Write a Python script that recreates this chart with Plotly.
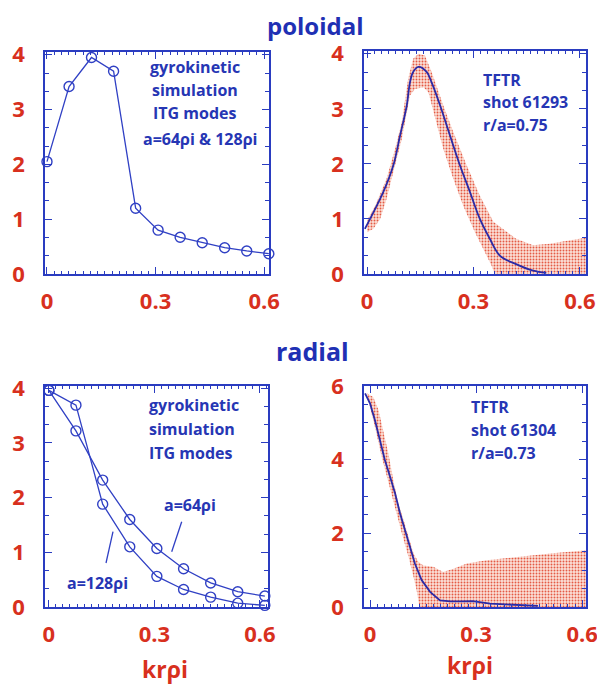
import plotly.graph_objects as go

# ---------------- data ----------------
# top-left: gyrokinetic simulation, poloidal spectrum
sim_pol_k = [0.0, 0.061, 0.123, 0.184, 0.245, 0.307, 0.368, 0.429, 0.491, 0.552, 0.613]
sim_pol_S = [2.05, 3.42, 3.95, 3.70, 1.20, 0.80, 0.67, 0.57, 0.48, 0.42, 0.37]

# top-right: TFTR shot 61293 poloidal spectrum
tftr_pol_k = [-0.006, 0.018, 0.046, 0.074, 0.093, 0.112, 0.121, 0.13, 0.145, 0.168, 0.182,
              0.206, 0.234, 0.262, 0.29, 0.318, 0.346, 0.375, 0.42, 0.468, 0.505]
tftr_pol_S = [0.82, 1.12, 1.49, 1.97, 2.51, 3.06, 3.48, 3.67, 3.76, 3.67, 3.48,
              3.06, 2.51, 1.97, 1.49, 1.0, 0.64, 0.33, 0.18, 0.06, 0.02]
tftr_pol_up_k = [0.0, 0.023, 0.055, 0.079, 0.098, 0.116, 0.13, 0.145, 0.163, 0.182, 0.215,
                 0.243, 0.281, 0.318, 0.356, 0.375, 0.42, 0.468, 0.515, 0.56, 0.617]
tftr_pol_up_S = [0.97, 1.24, 1.73, 2.27, 2.76, 3.55, 3.91, 4.0, 3.97, 3.67, 3.06,
                 2.58, 1.97, 1.42, 0.95, 0.86, 0.64, 0.52, 0.55, 0.60, 0.66]
tftr_pol_lo_k = [0.0, 0.018, 0.037, 0.055, 0.074, 0.098, 0.121, 0.135, 0.159, 0.173, 0.192,
                 0.215, 0.243, 0.271, 0.304, 0.332, 0.351, 0.36, 0.617]
tftr_pol_lo_S = [0.76, 0.82, 1.0, 1.36, 1.85, 2.45, 3.24, 3.36, 3.39, 3.3, 2.82,
                 2.27, 1.73, 1.24, 0.76, 0.39, 0.15, 0.0, 0.0]

# bottom-left: gyrokinetic simulation, radial spectrum
sim_rad_k = [0.0, 0.077, 0.153, 0.230, 0.307, 0.383, 0.460, 0.537, 0.614]
sim_rad_S64 = [3.96, 3.22, 2.32, 1.60, 1.07, 0.70, 0.44, 0.28, 0.20]
sim_rad_S128 = [3.96, 3.69, 1.88, 1.10, 0.56, 0.32, 0.18, 0.07, 0.03]

# bottom-right: TFTR shot 61304 radial spectrum
tftr_rad_k = [-0.014, 0.0, 0.014, 0.028, 0.042, 0.057, 0.071, 0.085, 0.099, 0.113, 0.127,
              0.146, 0.17, 0.198, 0.227, 0.26, 0.29, 0.34, 0.39, 0.475]
tftr_rad_S = [5.8, 5.53, 5.07, 4.53, 3.99, 3.53, 3.08, 2.54, 2.08, 1.63, 1.18,
              0.73, 0.41, 0.18, 0.15, 0.15, 0.16, 0.09, 0.07, 0.03]
tftr_rad_up_k = [-0.009, 0.009, 0.024, 0.038, 0.052, 0.066, 0.08, 0.095, 0.109, 0.123, 0.137,
                 0.151, 0.179, 0.207, 0.236, 0.274, 0.33, 0.415, 0.51, 0.611]
tftr_rad_up_S = [5.8, 5.7, 5.35, 4.8, 4.17, 3.44, 2.81, 2.36, 1.9, 1.45, 1.22,
                 1.13, 1.09, 0.95, 1.04, 1.18, 1.27, 1.36, 1.45, 1.54]
tftr_rad_lo_k = [-0.005, 0.014, 0.033, 0.052, 0.071, 0.09, 0.109, 0.123, 0.132, 0.14, 0.611]
tftr_rad_lo_S = [5.62, 4.89, 4.08, 3.44, 2.72, 2.0, 1.36, 0.82, 0.45, 0.0, 0.0]

x_ticks = [0, 0.3, 0.6]
x_ticklabels = ["0", "0.3", "0.6"]

# ---------------- styles ----------------
RED = "#d8301e"
BLUE = "#2a3cc0"
TXT_BLUE = "#2636b4"
LINE_BLUE = "#3040c4"
DARK_BLUE = "#2a2aa6"
FONT = "Open Sans"

fig = go.Figure()

def band(xu, yu, xl, yl, xa, ya):
    fig.add_trace(go.Scatter(
        x=list(xu) + list(xl)[::-1], y=list(yu) + list(yl)[::-1],
        xaxis=xa, yaxis=ya, mode="lines", line=dict(width=0),
        fill="toself", fillcolor="rgba(0,0,0,0)",
        fillpattern=dict(shape=".", size=3, solidity=0.32, fgcolor="#e45a44",
                         bgcolor="rgba(251,222,212,0.9)"),
        hoverinfo="skip", showlegend=False))

# TL
fig.add_trace(go.Scatter(x=sim_pol_k, y=sim_pol_S, xaxis="x", yaxis="y",
                         mode="lines+markers", cliponaxis=False,
                         line=dict(color=LINE_BLUE, width=1.3),
                         marker=dict(symbol="circle-open", size=10, color=LINE_BLUE,
                                     line=dict(width=1.4)), showlegend=False))
# TR
band(tftr_pol_up_k, tftr_pol_up_S, tftr_pol_lo_k, tftr_pol_lo_S, "x2", "y2")
fig.add_trace(go.Scatter(x=tftr_pol_k, y=tftr_pol_S, xaxis="x2", yaxis="y2",
                         mode="lines", line=dict(color=DARK_BLUE, width=1.8, shape="spline"),
                         showlegend=False))
# BL
for ys in (sim_rad_S64, sim_rad_S128):
    fig.add_trace(go.Scatter(x=sim_rad_k, y=ys, xaxis="x3", yaxis="y3",
                             mode="lines+markers", cliponaxis=False,
                             line=dict(color=LINE_BLUE, width=1.3),
                             marker=dict(symbol="circle-open", size=10, color=LINE_BLUE,
                                         line=dict(width=1.4)), showlegend=False))
# BR
band(tftr_rad_up_k, tftr_rad_up_S, tftr_rad_lo_k, tftr_rad_lo_S, "x4", "y4")
fig.add_trace(go.Scatter(x=tftr_rad_k, y=tftr_rad_S, xaxis="x4", yaxis="y4",
                         mode="lines", line=dict(color=DARK_BLUE, width=1.8),
                         showlegend=False))

W, H = 605, 684
OFF = 8  # page body margin compensation (pixels)

def PX(x):
    return (x - OFF) / W

def PY(y):
    return 1 - (y - OFF) / H

def px_dom(a, b):
    return [PX(a), PX(b)]

def py_dom(a, b):
    return [PY(b), PY(a)]

tickfont = dict(family=FONT, size=22, color=RED, weight="bold")

def xax(dom, rng, anchor):
    return dict(domain=dom, range=rng, anchor=anchor, tickvals=x_ticks, ticktext=x_ticklabels,
                ticks="inside", ticklen=7, tickcolor=BLUE, tickwidth=1.2,
                minor=dict(ticks="inside", ticklen=3, dtick=0.02, tick0=0, tickcolor=BLUE),
                showline=True, linecolor=BLUE, linewidth=1.6, mirror="allticks",
                showgrid=False, zeroline=False, tickfont=tickfont, ticklabelstandoff=7,
                automargin=False, fixedrange=True)

def yax(dom, rng, anchor, dtick, mdtick):
    return dict(domain=dom, range=rng, anchor=anchor, dtick=dtick, tick0=0,
                ticks="inside", ticklen=7, tickcolor=BLUE, tickwidth=1.2,
                minor=dict(ticks="inside", ticklen=4, dtick=mdtick, tick0=0, tickcolor=BLUE),
                showline=True, linecolor=BLUE, linewidth=1.6, mirror="allticks",
                showgrid=False, zeroline=False, tickfont=tickfont, ticklabelstandoff=14,
                automargin=False, fixedrange=True)

fig.update_layout(
    template="none",
    width=W, height=H, margin=dict(l=0, r=0, t=0, b=0, pad=0, autoexpand=False),
    paper_bgcolor="white", plot_bgcolor="white", showlegend=False,
    xaxis=xax(px_dom(45, 269), [-0.0055, 0.6135], "y"),
    yaxis=yax(py_dom(52, 274), [0, 4.05], "x", 1, 1 / 3),
    xaxis2=xax(px_dom(364, 586), [-0.0085, 0.617], "y2"),
    yaxis2=yax(py_dom(51, 274), [0, 4.05], "x2", 1, 1 / 3),
    xaxis3=xax(px_dom(45, 268), [-0.011, 0.623], "y3"),
    yaxis3=yax(py_dom(386, 607), [0, 4.04], "x3", 1, 1 / 3),
    xaxis4=xax(px_dom(364, 586), [-0.017, 0.611], "y4"),
    yaxis4=yax(py_dom(386, 607), [0, 6.0], "x4", 2, 0.5),
)

def ann(text, x, y, size=16, color=TXT_BLUE, align="center", xanchor="center", yanchor="middle"):
    fig.add_annotation(text=text, x=PX(x), y=PY(y), xref="paper", yref="paper",
                       showarrow=False, align=align, xanchor=xanchor, yanchor=yanchor,
                       borderpad=0,
                       font=dict(family=FONT, size=size, color=color, weight="bold"))

ann("poloidal", 315, 8, size=24, color="#1f30b4", yanchor="top")
ann("radial", 312, 351, size=25, color="#1f30b4")
ann("krρi", 165, 669, size=23, color=RED)
ann("krρi", 470, 665, size=23, color=RED)

# TL text
for t, yy in [("gyrokinetic", 67), ("simulation", 90), ("ITG modes", 113), ("a=64ρi & 128ρi", 139)]:
    ann(t, 200 if t.startswith("a=") else 195, yy)
# TR text
for t, yy in [("TFTR", 80), ("shot 61293", 102), ("r/a=0.75", 125)]:
    ann(t, 482, yy, xanchor="left")
# BL text
for t, yy in [("gyrokinetic", 405), ("simulation", 429), ("ITG modes", 453)]:
    ann(t, 148, yy, xanchor="left")
ann("a=64ρi", 190, 505)
ann("a=128ρi", 97, 583)
# BR text
for t, yy in [("TFTR", 407), ("shot 61304", 430), ("r/a=0.73", 453)]:
    ann(t, 470, yy, xanchor="left")

# leader lines (BL)
fig.add_shape(type="line", xref="paper", yref="paper",
              x0=PX(181.7), y0=PY(521.7), x1=PX(171.7), y1=PY(551.7),
              line=dict(color=LINE_BLUE, width=1.3))
fig.add_shape(type="line", xref="paper", yref="paper",
              x0=PX(113), y0=PY(531.7), x1=PX(106), y1=PY(563),
              line=dict(color=LINE_BLUE, width=1.3))

fig.write_html("out.html")
